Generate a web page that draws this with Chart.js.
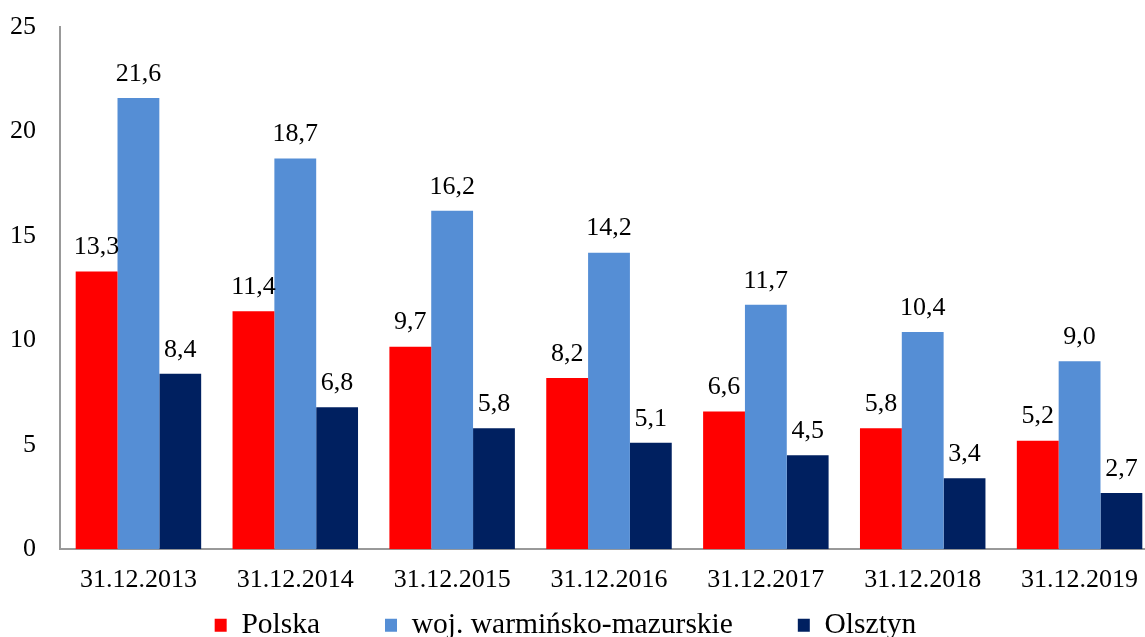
<!DOCTYPE html>
<html lang="pl">
<head>
  <meta charset="UTF-8">
  <title>Wykres</title>
  <script src="https://cdn.jsdelivr.net/npm/chart.js"></script>
  <style>
    html, body {
      margin: 0;
      padding: 0;
      background: #fff;
    }
    #wrap {
      width: 1145px;
      height: 637px;
    }
  </style>
</head>
<body>
<div id="wrap">
  <canvas id="chart"></canvas>
</div>
<script>
  const labels = ['31.12.2013', '31.12.2014', '31.12.2015', '31.12.2016', '31.12.2017', '31.12.2018', '31.12.2019'];
  const polska = [13.3, 11.4, 9.7, 8.2, 6.6, 5.8, 5.2];
  const wojewodztwo = [21.6, 18.7, 16.2, 14.2, 11.7, 10.4, 9.0];
  const olsztyn = [8.4, 6.8, 5.8, 5.1, 4.5, 3.4, 2.7];
  const yTicks = [0, 5, 10, 15, 20, 25];

  const fontFamily = "'Liberation Serif', 'Times New Roman', serif";

  // value labels above each bar, decimal comma
  const barValues = {
    id: 'barValues',
    afterDatasetsDraw(chart) {
      const ctx = chart.ctx;
      ctx.save();
      ctx.font = '26px ' + fontFamily;
      ctx.fillStyle = '#000';
      ctx.textAlign = 'center';
      ctx.textBaseline = 'bottom';
      chart.data.datasets.forEach((ds, i) => {
        chart.getDatasetMeta(i).data.forEach((bar, j) => {
          ctx.fillText(ds.data[j].toFixed(1).replace('.', ','), bar.x, bar.y - 11);
        });
      });
      ctx.restore();
    }
  };

  // the original plot runs a little past the right edge of the picture
  const widenPlot = {
    id: 'widenPlot',
    afterLayout(chart) {
      const x = chart.scales.x;
      x.right += 13;
      x.width += 13;
      x.configure();
      chart.chartArea.right += 13;
      chart.chartArea.width += 13;
    }
  };

  new Chart(document.getElementById('chart'), {
    type: 'bar',
    data: {
      labels: labels,
      datasets: [
        { label: 'Polska', data: polska, backgroundColor: '#ff0000' },
        { label: 'woj. warmińsko-mazurskie', data: wojewodztwo, backgroundColor: '#558ed5' },
        { label: 'Olsztyn', data: olsztyn, backgroundColor: '#002060' }
      ]
    },
    options: {
      responsive: true,
      maintainAspectRatio: false,
      animation: false,
      datasets: {
        bar: { categoryPercentage: 0.8, barPercentage: 1.0 }
      },
      layout: { padding: { top: 0, right: 0, left: -14, bottom: -13 } },
      plugins: {
        tooltip: { enabled: false },
        legend: {
          position: 'bottom',
          labels: {
            color: '#000',
            font: { family: fontFamily, size: 29.5 },
            boxWidth: 12,
            boxHeight: 13,
            padding: 0,
            // wider gaps between legend entries, like the original
            generateLabels(chart) {
              const items = Chart.defaults.plugins.legend.labels.generateLabels(chart);
              items.forEach((it, i) => {
                if (i < items.length - 1) it.text = it.text + '\u2003\u2003\u2009';
              });
              return items;
            }
          }
        }
      },
      scales: {
        x: {
          grid: { display: false, drawTicks: false },
          border: { color: '#999', width: 2 },
          ticks: {
            color: '#000',
            font: { family: fontFamily, size: 26 },
            padding: 15
          }
        },
        y: {
          min: 0,
          max: 25,
          afterBuildTicks(axis) {
            axis.ticks = yTicks.map(v => ({ value: v }));
          },
          afterFit(scale) {
            scale.paddingTop = 27;
          },
          grid: { display: false, drawTicks: false },
          border: { color: '#999', width: 2 },
          ticks: {
            color: '#000',
            font: { family: fontFamily, size: 26 },
            padding: 24
          }
        }
      }
    },
    plugins: [barValues, widenPlot]
  });
</script>
</body>
</html>
